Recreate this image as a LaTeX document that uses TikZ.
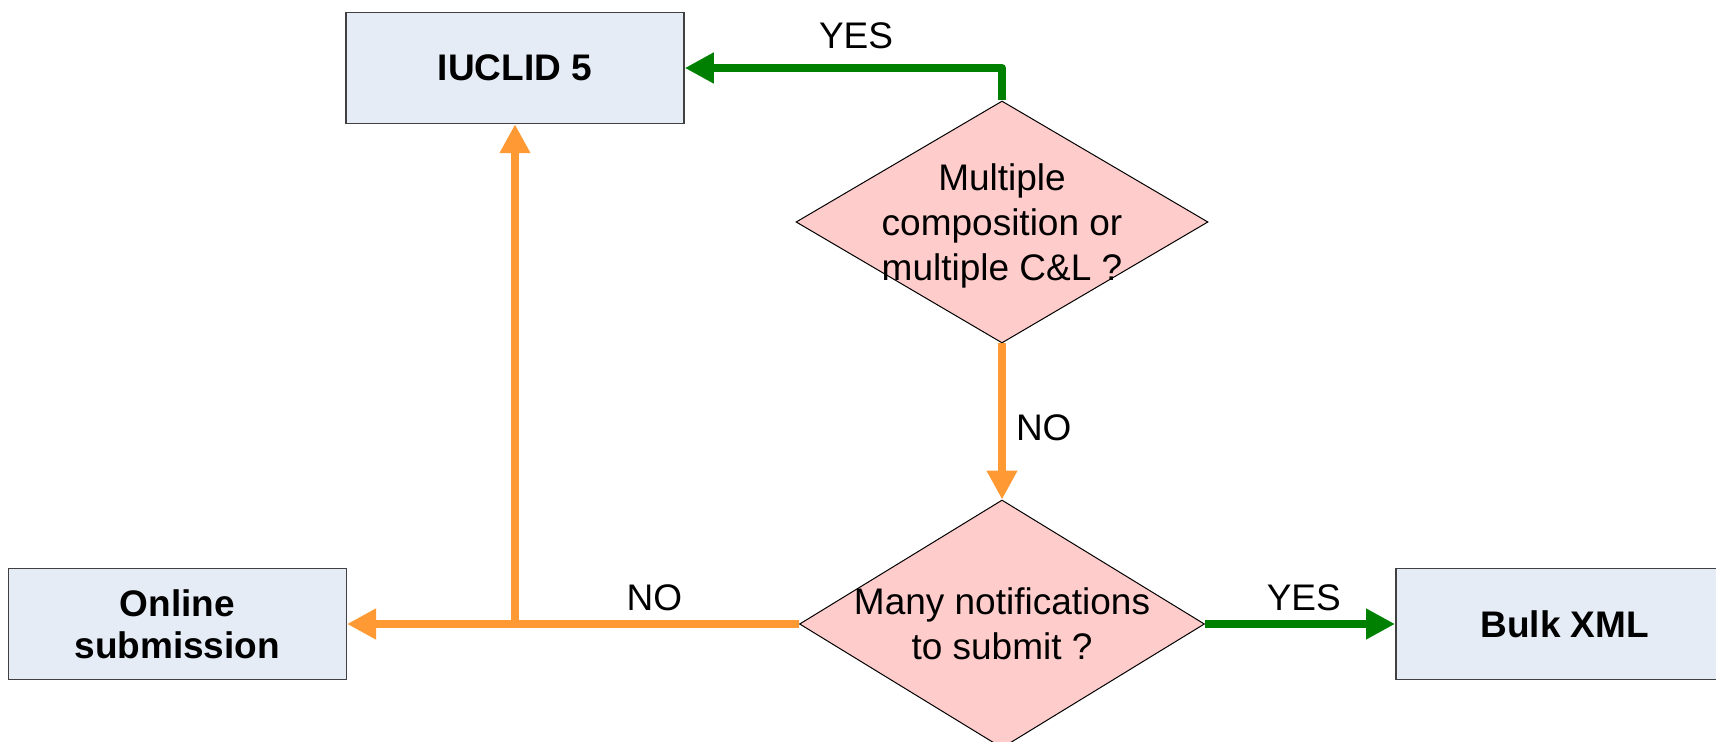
\documentclass[tikz,border=0pt]{standalone}
\usepackage{fontspec}
\setmainfont{Liberation Sans}
\usepackage{tikz}
\usetikzlibrary{arrows.meta, shapes, positioning}

\definecolor{boxfill}{RGB}{230,236,246}
\definecolor{boxline}{RGB}{64,64,64}
\definecolor{askfill}{RGB}{255,204,204}
\definecolor{yesgreen}{RGB}{0,128,0}
\definecolor{noorange}{RGB}{255,153,51}

\begin{document}
\begin{tikzpicture}[x=0.5pt, y=-0.5pt, node distance=78pt and 95pt,
    font=\fontsize{18.5}{22.5}\selectfont,
    tool/.style={rectangle, draw=boxline, line width=0.75pt, fill=boxfill, minimum width=169pt, minimum height=55.5pt, align=center, font=\fontsize{18.5}{21}\selectfont\bfseries},
    ask/.style={diamond, draw=black, line width=0.5pt, fill=askfill, inner sep=0pt, minimum width=206pt, minimum height=121pt},
    asktext/.style={align=center, inner sep=0pt},
    yesline/.style={-{Triangle[length=14.5pt, width=14.5pt]}, draw=yesgreen, line width=4pt, line join=round},
    noline/.style={-{Triangle[length=14.5pt, width=14.5pt]}, draw=noorange, line width=4pt},
    answer/.style={inner sep=0pt, text=black}]
    \useasboundingbox (0,0) rectangle (1716,742);
    % \tikzstyle{every node}=[font=\bfseries]
    \node[ask] (multi) at (1002,222) {};
    \node[asktext, yshift=-2pt] (multitext) at (multi) {Multiple\\composition or\\multiple C\&L ?};
    \node[ask, minimum width=202.5pt, minimum height=124pt] (many) [below=of multi] {};
    \node[asktext] (manytext) at (many) {Many notifications\\to submit ?};
    \node[tool] (bulk) [right=of many] {Bulk XML};
    \node[tool] (online) [left=226pt of many] {Online\\submission};
    \node[tool] (iuclid) at (515,68) {IUCLID 5};
    \coordinate (split) at (iuclid.south |- many.west);

    \draw[yesline] (multi.north) |- node[answer, pos=0.73, above=7.75pt] (yestop) {YES} (iuclid.east);
    \draw[noline] (multi.south) -- node[answer, pos=0.54, right=5pt] (nomid) {NO} (many.north);
    \draw[noline] (many.west) -- node[answer, pos=0.32, above=4.5pt] (noleft) {NO} (online.east);
    \draw[noline] (split) -- (iuclid.south);
    \draw[yesline] (many.east) -- node[answer, pos=0.52, above=4.5pt] (yesright) {YES} (bulk.west);
\end{tikzpicture}
\end{document}
